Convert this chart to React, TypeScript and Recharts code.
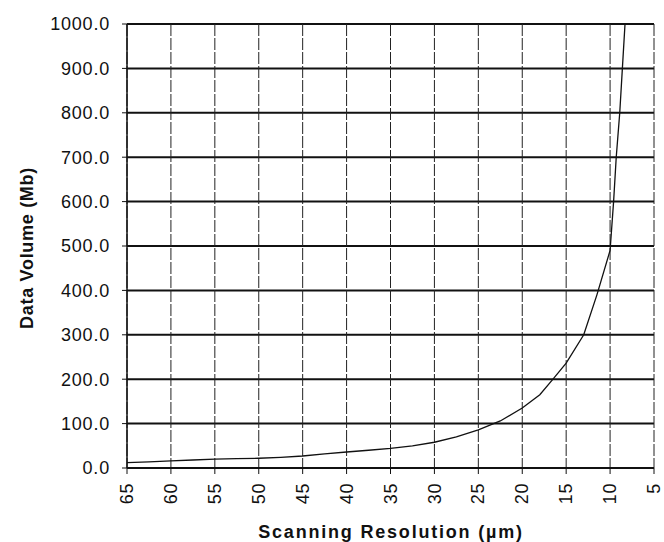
import { LineChart, Line, XAxis, YAxis, CartesianGrid, Label } from 'recharts';

// scanning resolution (µm) vs data volume (Mb)
const resolution = [65, 62.5, 60, 57.5, 55, 52.5, 50, 47.5, 45, 42.5, 40, 37.5, 35, 32.5, 30, 27.5, 25, 22.5, 20, 18, 16.5, 15, 13, 11.5, 10, 9.6, 9.3, 8.9, 8.6, 8.3];
const volume = [12, 14, 16, 18, 20, 21, 22, 24, 27, 32, 36, 40, 44, 50, 58, 70, 86, 106, 135, 165, 200, 236, 300, 390, 490, 600, 700, 800, 900, 1000];

const xTicks = [65, 60, 55, 50, 45, 40, 35, 30, 25, 20, 15, 10, 5];
const yTicks = [0, 100, 200, 300, 400, 500, 600, 700, 800, 900, 1000];

const data = resolution.map((r, i) => ({ resolution: r, volume: volume[i] }));

const tickFont = '"Liberation Sans", Arial, sans-serif';
const titleFont = '"Liberation Sans", Arial, sans-serif';

const XTick = ({ x, y, payload }: any) => (
  <g transform={`translate(${x},${y})`}>
    <text
      transform="rotate(-90)"
      textAnchor="end"
      dy="0.34em"
      fill="#111"
      fontSize={18}
      letterSpacing={0.6}
      fontFamily={tickFont}
    >
      {payload.value}
    </text>
  </g>
);

const YTitle = () => (
  <text
    transform="translate(33,248) rotate(-90)"
    textAnchor="middle"
    fill="#111"
    fontSize={18}
    fontWeight="bold"
    letterSpacing={0.7}
    fontFamily={titleFont}
  >
    Data Volume (Mb)
  </text>
);

const XTitle = () => (
  <text
    x={391}
    y={538}
    textAnchor="middle"
    fill="#111"
    fontSize={18}
    fontWeight="bold"
    letterSpacing={1.8}
    fontFamily={titleFont}
  >
    Scanning Resolution (µm)
  </text>
);

export default function App() {
  return (
    <div style={{ position: 'absolute', left: 0, top: 0, background: '#fff' }}>
      <LineChart
        width={664}
        height={542}
        data={data}
        margin={{ top: 24, right: 10, bottom: 0, left: 0 }}
      >
        <CartesianGrid vertical={false} stroke="#111" strokeWidth={2} />
        <CartesianGrid horizontal={false} stroke="#222" strokeWidth={1} strokeDasharray="12 2" />
        <XAxis
          dataKey="resolution"
          type="number"
          domain={[5, 65]}
          reversed
          ticks={xTicks}
          interval={0}
          height={74}
          tickSize={6}
          tickMargin={9}
          tick={<XTick />}
          axisLine={{ stroke: '#111', strokeWidth: 2 }}
          tickLine={{ stroke: '#111' }}
        >
          <Label content={<XTitle />} />
        </XAxis>
        <YAxis
          type="number"
          domain={[0, 1000]}
          ticks={yTicks}
          interval={0}
          width={127}
          tickSize={5}
          tickMargin={12}
          tickFormatter={(v: number) => v.toFixed(1)}
          tick={{ fill: '#111', fontSize: 18, letterSpacing: 0.8, fontFamily: tickFont }}
          axisLine={{ stroke: '#111', strokeWidth: 1.5 }}
          tickLine={{ stroke: '#111' }}
        >
          <Label content={<YTitle />} />
        </YAxis>
        <Line
          type="linear"
          dataKey="volume"
          stroke="#111"
          strokeWidth={1.3}
          dot={false}
          isAnimationActive={false}
        />
      </LineChart>
    </div>
  );
}
